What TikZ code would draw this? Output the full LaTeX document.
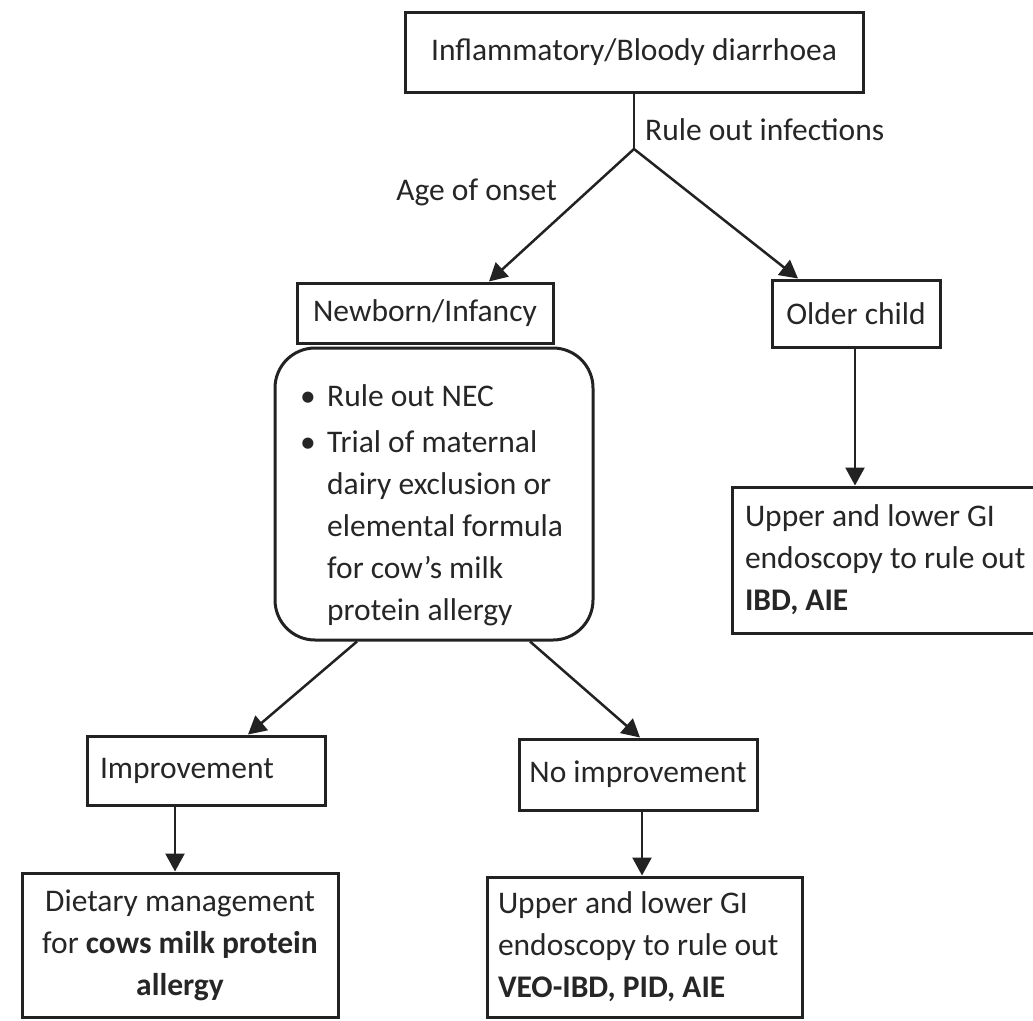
\documentclass[tikz,border=0pt]{standalone}
\usepackage{fontspec}
\setmainfont{Carlito}
\usetikzlibrary{arrows.meta}
\definecolor{ink}{HTML}{222222}
\definecolor{txt}{HTML}{262626}
\begin{document}
\begin{tikzpicture}[x=1pt,y=-1pt,
  every node/.style={font=\fontsize{31.5}{42}\selectfont, text=txt},
  box/.style={draw=ink, line width=3pt, inner sep=0pt},
  rbox/.style={draw=ink, line width=3pt, inner sep=0pt, rounded corners=40pt},
  lbl/.style={inner sep=0pt},
  arr/.style={draw=ink, line width=2.5pt, -{Triangle[length=18pt,width=19pt]}},
  thin/.style={draw=ink, line width=1.5pt}]
\useasboundingbox (0,0) rectangle (1033,1020);
\fill[white] (0,0) rectangle (1033,1020);

% nodes
\node[box, minimum width=458pt, minimum height=80pt] (top) at (634,52) {Inflammatory/Bloody diarrhoea};
\coordinate (J) at (634,149);
\node[lbl, anchor=west] (rule) at (645,130) {Rule out infections};
\node[lbl, anchor=east] (age) at (557,192) {Age of onset};

\node[box, minimum width=256pt, minimum height=60pt] (newborn) at (425,313) {Newborn/Infancy};
\node[box, minimum width=168pt, minimum height=67pt] (older) at (856,313.5) {Older child};

\node[rbox, minimum width=318pt, minimum height=292pt] (care) at (434,494) {};
\node[lbl, anchor=west, align=left] (caretxt) at (300,505) {%
\makebox[27pt][l]{•}Rule out NEC\\[4pt]
\makebox[27pt][l]{•}Trial of maternal\\
\hspace*{27pt}dairy exclusion or\\
\hspace*{27pt}elemental formula\\
\hspace*{27pt}for cow’s milk\\
\hspace*{27pt}protein allergy};

\node[box, minimum width=326pt, minimum height=146pt, text width=300pt, align=flush left] (rightbox) at (895,560)
  {Upper and lower GI\\ endoscopy to rule out\\ \textbf{IBD, AIE}};

\node[box, minimum width=238pt, minimum height=69pt, text width=212pt, align=flush left] (impr) at (206,770.5) {Improvement};
\node[box, minimum width=238pt, minimum height=71pt] (noimp) at (638,774.5) {No improvement};

\node[box, minimum width=316pt, minimum height=144pt, text width=300pt, align=flush center] (diet) at (180,945)
  {Dietary management\\ for \textbf{cows milk protein}\\ \textbf{allergy}};
\node[box, minimum width=315pt, minimum height=140pt, text width=293pt, align=flush left] (endo) at (644.5,947)
  {Upper and lower GI\\ endoscopy to rule out\\ \textbf{VEO-IBD, PID, AIE}};

% connectors
\draw[thin] (top.south) -- (J);
\draw[arr] (J) -- ([xshift=64pt]newborn.north);
\draw[arr] (J) -- ([xshift=-58pt]older.north);
\draw[arr] ([xshift=-1pt]older.south) -- ([xshift=-1pt]older.south |- rightbox.north);
\draw[arr] ([xshift=-77pt]care.south) -- ([xshift=42pt]impr.north);
\draw[arr] ([xshift=96pt]care.south) -- ([xshift=2pt]noimp.north);
\draw[arr] ([xshift=-31pt]impr.south) -- ([xshift=-31pt]impr.south |- diet.north);
\draw[arr] ([xshift=4pt]noimp.south) -- ([xshift=4pt]noimp.south |- endo.north);
\end{tikzpicture}
\end{document}
